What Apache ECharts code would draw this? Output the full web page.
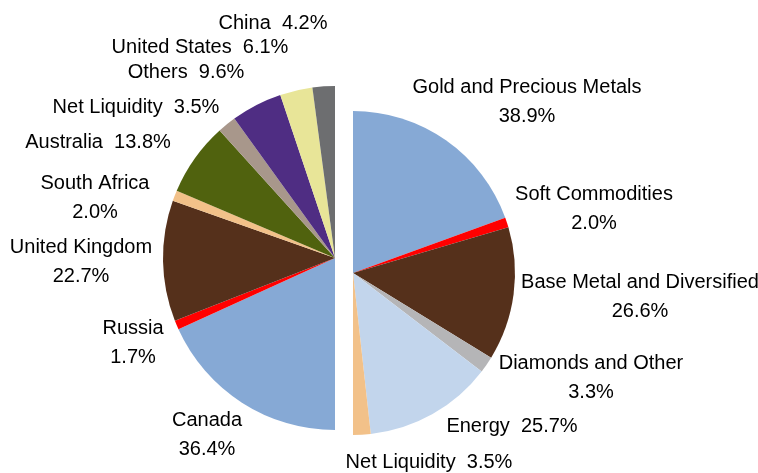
<!DOCTYPE html>
<html><head><meta charset="utf-8">
<script src="https://cdn.jsdelivr.net/npm/echarts@6/dist/echarts.min.js"></script>
<style>html,body{margin:0;padding:0;background:#fff}#c{width:758px;height:473px}</style>
</head><body><div id="c"></div>
<script>
// Left half: by country
var countryNames = ['Canada','Russia','United Kingdom','South Africa','Australia','Net Liquidity','Others','United States','China'];
var countryValues = [36.4, 1.7, 22.7, 2.0, 13.8, 3.5, 9.6, 6.1, 4.2];
// Right half: by sector
var sectorNames = ['Gold and Precious Metals','Soft Commodities','Base Metal and Diversified','Diamonds and Other','Energy','Net Liquidity'];
var sectorValues = [38.9, 2.0, 26.6, 3.3, 25.7, 3.5];

var countryColors = ['#86a9d5','#ff0000','#55301b','#f2c189','#50620e','#a8978b','#4f2d83','#e8e598','#6d6e70'];
var sectorColors = ['#86a9d5','#ff0000','#55301b','#b5b5b7','#c2d5ec','#f2c189'];
var countryTwoLine = [true,true,true,true,false,false,false,false,false];
var sectorTwoLine = [true,true,true,true,false,false];
// label anchor points (text centres)
var countryLabelPos = [[207,435],[133,343],[81,262],[95,198],[98,142],[136,107],[186,72],[200,47],[273,23]];
var sectorLabelPos = [[527,102],[594,209],[640,297],[591,378],[512,426],[429,462]];

function mk(names, vals, colors){
  return names.map(function(n,i){return {name:n,value:vals[i],itemStyle:{color:colors[i]}};});
}
function fmt(two){
  return function(p){ return p.name + (two[p.dataIndex] ? '\n' : '  ') + p.value.toFixed(1) + '%'; };
}
var labelStyle = {show:true, position:'outside', color:'#000', fontFamily:'Liberation Sans, Arial, sans-serif', fontSize:20, lineHeight:29};

var chart = echarts.init(document.getElementById('c'), null, {renderer:'canvas'});
chart.setOption({
  animation:false,
  series:[
    {type:'pie', center:[335,258], radius:[0,172], startAngle:270, endAngle:90, clockwise:true,
     avoidLabelOverlap:false, silent:true,
     data: mk(countryNames, countryValues, countryColors),
     label: Object.assign({formatter: fmt(countryTwoLine)}, labelStyle),
     labelLine:{show:false},
     labelLayout:function(p){var q=countryLabelPos[p.dataIndex];return {x:q[0],y:q[1],align:'center',verticalAlign:'middle'};},
     itemStyle:{borderWidth:0}},
    {type:'pie', center:[353,273], radius:[0,162], startAngle:90, endAngle:-90, clockwise:true,
     avoidLabelOverlap:false, silent:true,
     data: mk(sectorNames, sectorValues, sectorColors),
     label: Object.assign({formatter: fmt(sectorTwoLine)}, labelStyle),
     labelLine:{show:false},
     labelLayout:function(p){var q=sectorLabelPos[p.dataIndex];return {x:q[0],y:q[1],align:'center',verticalAlign:'middle'};},
     itemStyle:{borderWidth:0}}
  ]
});
</script></body></html>
